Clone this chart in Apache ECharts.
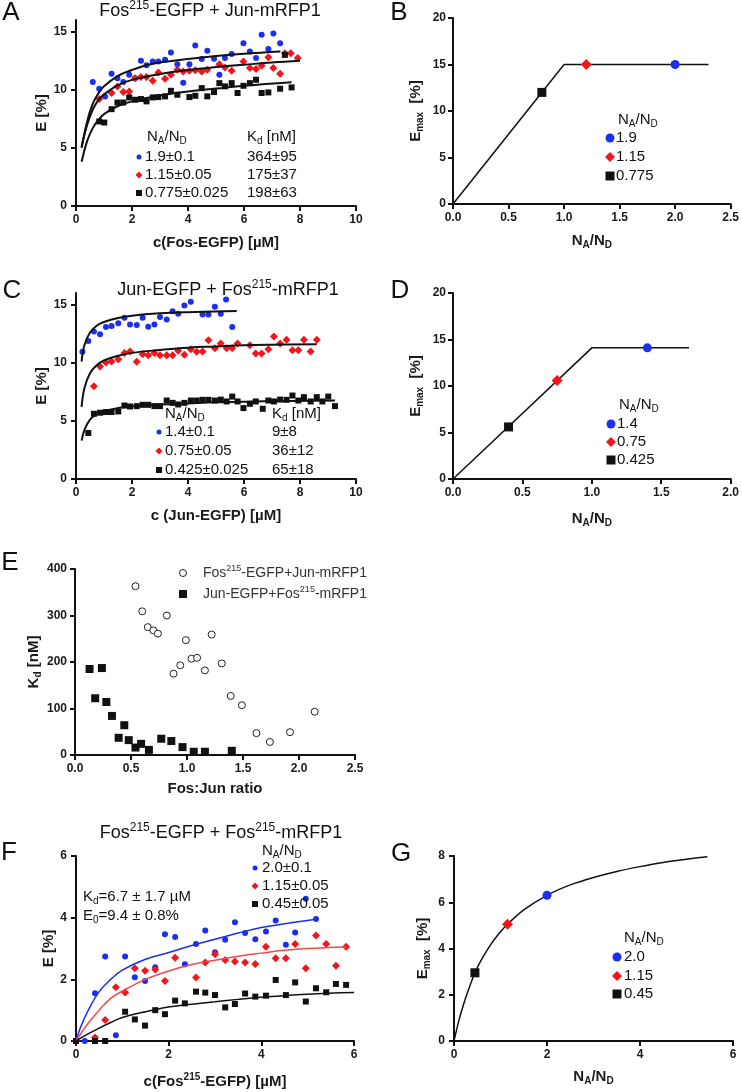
<!DOCTYPE html>
<html>
<head>
<meta charset="utf-8">
<script src="https://cdn.jsdelivr.net/npm/echarts@6/dist/echarts.min.js"></script>
<style>
  html, body { margin: 0; padding: 0; background: #fff; }
  #chart { width: 742px; height: 1092px; }
</style>
</head>
<body>
<div id="chart"></div>
<script>
const FONT = '"Liberation Sans", Arial, Helvetica, sans-serif';
const BLUE = '#1a2ff0';
const RED = '#f2161c';
const BLACK = '#111111';

// ---- panel A : Fos215-EGFP + Jun-mRFP1
const aBlue = [[0.60,10.66],[0.83,10.09],[1.04,9.43],[1.27,11.38],[1.48,11.0],[1.69,10.66],[1.90,11.29],[2.11,11.0],[2.32,12.5],[2.52,12.1],[2.74,12.44],[2.94,12.44],[3.18,12.59],[3.39,13.2],[3.62,12.2],[3.83,10.6],[4.05,12.2],[4.26,13.8],[4.49,12.64],[4.69,13.36],[4.93,12.67],[5.12,11.29],[5.32,12.73],[5.56,13.08],[5.98,14.0],[6.21,13.3],[6.43,12.73],[6.63,14.74],[6.87,13.5],[7.05,14.83],[7.29,14.0]];
const aRed = [[0.83,9.2],[1.27,9.71],[1.48,10.29],[1.69,9.8],[1.90,9.86],[2.11,11.0],[2.32,11.09],[2.52,11.09],[2.74,10.78],[2.94,11.49],[3.18,10.95],[3.39,11.29],[3.62,11.72],[3.83,11.58],[4.05,11.64],[4.26,11.67],[4.49,11.58],[4.69,11.72],[5.12,12.2],[5.32,11.92],[5.56,11.64],[5.98,12.44],[6.21,11.87],[6.43,11.78],[6.63,12.07],[6.87,12.8],[7.05,11.87],[7.29,11.38],[7.46,13.15],[7.67,13.15],[7.92,12.73]];
const aBlack = [[0.83,7.27],[1.01,7.18],[1.27,8.33],[1.48,8.9],[1.69,8.9],[1.90,9.34],[2.11,9.14],[2.32,9.2],[2.52,9.0],[2.74,9.34],[2.94,9.37],[3.18,9.43],[3.39,9.91],[3.62,9.57],[4.05,9.37],[4.26,9.48],[4.49,10.14],[4.69,9.43],[4.93,9.8],[5.12,10.57],[5.32,10.29],[5.56,10.57],[5.77,9.72],[5.98,10.34],[6.21,10.57],[6.43,10.86],[6.63,9.72],[6.87,9.77],[7.29,10.09],[7.46,13.0],[7.7,10.2]];
const aBlueFit = [[0.2,5.0],[0.4,7.3],[0.6,8.8],[0.8,9.7],[1.0,10.3],[1.5,11.2],[2,11.7],[2.5,12.1],[3,12.35],[4,12.65],[5,12.9],[6,13.1],[7.3,13.3]];
const aRedFit = [[0.2,5.1],[0.4,7.0],[0.6,8.3],[0.8,9.1],[1.0,9.6],[1.5,10.4],[2,10.85],[3,11.35],[4,11.7],[5,11.95],[6,12.15],[7,12.35],[8,12.5]];
const aBlackFit = [[0.2,3.8],[0.4,5.6],[0.6,6.7],[0.8,7.4],[1.0,7.9],[1.5,8.6],[2,9.0],[3,9.5],[4,9.85],[5,10.1],[6,10.35],[7.7,10.65]];

// ---- panel B
const bLine = [[0,0],[1,15],[2.3,15]];
const bPts = { blue: [[2.0,15]], red: [[1.2,15]], black: [[0.8,12]] };

// ---- panel C : Jun-EGFP + Fos215-mRFP1
const cBlue = [[0.23,10.94],[0.44,11.88],[0.64,12.68],[0.86,12.45],[1.07,13.08],[1.27,13.16],[1.51,13.39],[1.73,13.87],[1.93,13.3],[2.17,13.25],[2.38,13.87],[2.58,13.1],[2.8,13.3],[3.0,13.93],[3.24,13.73],[3.45,14.44],[3.65,14.21],[3.87,14.93],[4.1,15.24],[4.52,14.16],[4.73,14.16],[4.96,14.81],[5.17,14.21],[5.36,15.44],[5.58,13.08]];
const cRed = [[0.64,7.98],[0.86,9.68],[1.07,10.03],[1.27,10.1],[1.51,10.31],[1.73,10.83],[1.93,10.97],[2.17,10.09],[2.38,10.74],[2.58,10.65],[2.8,10.83],[3.0,10.65],[3.24,10.65],[3.45,10.65],[3.65,11.03],[3.87,10.68],[4.1,11.17],[4.31,10.94],[4.52,10.97],[4.73,11.94],[4.96,11.25],[5.17,11.65],[5.38,11.25],[5.58,11.25],[5.77,11.65],[6.21,11.51],[6.42,10.8],[6.63,10.8],[6.87,11.17],[7.07,12.25],[7.29,11.65],[7.52,11.97],[7.73,11.08],[7.94,11.08],[8.14,11.97],[8.38,10.97],[8.6,11.97]];
const cBlack = [[0.44,3.96],[0.64,5.61],[0.86,5.7],[1.07,5.76],[1.27,5.76],[1.51,5.81],[1.73,6.32],[1.93,6.24],[2.17,6.27],[2.38,6.38],[2.58,6.38],[2.8,6.27],[3.0,6.27],[3.24,6.75],[3.45,6.55],[3.65,6.41],[3.87,6.55],[4.1,6.75],[4.31,6.75],[4.52,6.81],[4.73,6.81],[4.96,6.75],[5.17,6.83],[5.38,6.67],[5.58,7.09],[5.77,6.67],[5.98,6.1],[6.21,6.47],[6.42,6.67],[6.67,6.04],[6.87,6.75],[7.07,6.67],[7.29,6.83],[7.52,6.81],[7.73,7.18],[7.94,6.75],[8.14,7.04],[8.38,6.67],[8.6,7.04],[8.8,6.67],[9.01,7.09],[9.25,6.27]];
const cBlueFit = [[0.2,10.1],[0.3,11.5],[0.5,12.6],[0.75,13.2],[1,13.5],[1.5,13.85],[2,14.05],[3,14.25],[4,14.35],[5.74,14.45]];
const cRedFit = [[0.2,6.2],[0.3,7.8],[0.5,9.1],[0.75,9.8],[1,10.2],[1.5,10.6],[2,10.85],[3,11.1],[4,11.3],[5,11.4],[6,11.5],[7,11.55],[8.6,11.6]];
const cBlackFit = [[0.2,3.3],[0.3,4.2],[0.5,5.1],[0.75,5.6],[1,5.85],[1.5,6.1],[2,6.25],[3,6.4],[4,6.5],[5,6.6],[6,6.65],[7,6.7],[9.25,6.75]];

// ---- panel D
const dLine = [[0,0],[1,14.1],[1.7,14.1]];
const dPts = { blue: [[1.4,14.1]], red: [[0.75,10.6]], black: [[0.4,5.6]] };

// ---- panel E : Kd vs Fos:Jun ratio
const eFosJun = [[0.54,363],[0.60,309],[0.65,275],[0.70,268],[0.74,261],[0.82,300],[0.88,175],[0.94,193],[0.99,247],[1.04,207],[1.09,209],[1.16,182],[1.22,259],[1.31,197],[1.39,127],[1.49,107],[1.62,47],[1.74,28],[1.92,49],[2.14,93]];
const eJunFos = [[0.13,185],[0.18,122],[0.24,187],[0.28,114],[0.33,84],[0.39,37],[0.44,64],[0.48,32],[0.54,16],[0.59,24],[0.66,11],[0.77,35],[0.86,30],[0.96,17],[1.06,7],[1.16,7],[1.40,9]];

// ---- panel F : Fos215-EGFP + Fos215-mRFP1
const fBlue = [[0,0],[0.19,0],[0.41,1.55],[0.63,2.74],[0.86,0.19],[1.06,2.74],[1.27,2.07],[1.49,1.95],[1.71,2.39],[1.92,3.46],[2.14,3.37],[2.35,2.49],[2.59,3.15],[2.79,3.58],[3.0,2.88],[3.22,3.28],[3.43,3.85],[3.65,3.5],[3.87,3.3],[4.1,3.55],[4.31,3.91],[4.53,3.12],[4.73,3.52],[4.96,4.61],[5.18,3.96]];
const fRed = [[0,0],[0.41,0.11],[0.63,0.68],[0.86,1.74],[1.06,1.57],[1.27,2.36],[1.49,2.28],[1.71,2.32],[1.92,1.95],[2.14,2.7],[2.59,2.06],[2.79,2.55],[3.0,2.81],[3.22,2.63],[3.43,2.58],[3.65,2.55],[3.87,2.5],[4.1,3.06],[4.31,2.68],[4.53,2.68],[4.73,3.15],[4.96,2.36],[5.18,3.42],[5.4,3.15],[5.61,2.44],[5.83,3.06]];
const fBlack = [[0,0],[0.41,0],[0.63,0],[1.06,0.95],[1.27,0.7],[1.49,0.5],[1.71,1.0],[1.92,0.87],[2.14,1.31],[2.35,1.22],[2.59,1.6],[2.79,1.57],[3.0,1.49],[3.22,1.09],[3.43,1.2],[3.65,1.54],[3.87,1.44],[4.1,1.47],[4.31,1.98],[4.53,1.49],[4.73,1.9],[4.96,1.28],[5.18,1.71],[5.4,1.58],[5.61,1.85],[5.83,1.82]];
const fBlueFit = [[0,0],[0.1,0.45],[0.25,0.95],[0.5,1.6],[0.75,2.0],[1,2.3],[1.5,2.65],[2,2.87],[2.5,3.1],[3,3.3],[3.5,3.5],[4,3.68],[4.5,3.8],[5.18,3.95]];
const fRedFit = [[0,0],[0.25,0.55],[0.5,1.0],[0.75,1.38],[1,1.62],[1.5,2.0],[2,2.27],[2.5,2.48],[3,2.62],[3.5,2.75],[4,2.85],[4.5,2.94],[5,3.0],[5.83,3.05]];
const fBlackFit = [[0,0],[0.25,0.22],[0.5,0.42],[0.75,0.6],[1,0.76],[1.5,0.95],[2,1.1],[2.5,1.19],[3,1.27],[3.5,1.35],[4,1.42],[4.5,1.47],[5,1.52],[6,1.57]];

// ---- panel G
const gCurve = [[0,0],[0.1,0.85],[0.2,1.55],[0.3,2.15],[0.45,2.95],[0.6,3.55],[0.8,4.2],[1.0,4.72],[1.15,5.05],[1.5,5.67],[2,6.3],[2.5,6.75],[3,7.07],[3.5,7.33],[4,7.54],[4.5,7.72],[5,7.86],[5.45,7.97]];
const gPts = { blue: [[2.0,6.3]], red: [[1.15,5.05]], black: [[0.45,2.95]] };

// legend / annotation texts
const aLegend = ['1.9±0.1', '1.15±0.05', '0.775±0.025'];
const aKd = ['364±95', '175±37', '198±63'];
const bLegend = ['1.9', '1.15', '0.775'];
const cLegend = ['1.4±0.1', '0.75±0.05', '0.425±0.025'];
const cKd = ['9±8', '36±12', '65±18'];
const dLegend = ['1.4', '0.75', '0.425'];
const fLegend = ['2.0±0.1', '1.15±0.05', '0.45±0.05'];
const gLegend = ['2.0', '1.15', '0.45'];

const grids = [
  { left: 76, top: 20, width: 280, height: 186 },   // A
  { left: 453, top: 18, width: 280, height: 186 },  // B
  { left: 76, top: 293, width: 280, height: 186 },  // C
  { left: 453, top: 293, width: 280, height: 186 }, // D
  { left: 75, top: 569, width: 280, height: 186 },  // E
  { left: 76, top: 856, width: 278, height: 185 },  // F
  { left: 454, top: 856, width: 279, height: 185 }, // G
];

const axisRich = {
  n: { fontFamily: FONT, fontWeight: 'bold', fontSize: 15, color: '#1a1a1a', lineHeight: 19 },
  b: { fontFamily: FONT, fontWeight: 'bold', fontSize: 10, color: '#1a1a1a', lineHeight: 10, verticalAlign: 'bottom' },
  s: { fontFamily: FONT, fontWeight: 'bold', fontSize: 10, color: '#1a1a1a', lineHeight: 10, verticalAlign: 'top' },
};

const lineCommon = { color: BLACK, width: 2 };

function xAxis(gi, min, max, interval, name, gap, dec) {
  return {
    gridIndex: gi, type: 'value', min, max, interval,
    name, nameLocation: 'middle', nameGap: gap,
    nameTextStyle: { fontFamily: FONT, fontWeight: 'bold', fontSize: 15, color: '#1a1a1a', rich: axisRich },
    axisLine: { show: true, onZero: false, lineStyle: lineCommon },
    axisTick: { show: true, length: 5, lineStyle: lineCommon },
    axisLabel: { fontFamily: FONT, fontWeight: 'bold', fontSize: 12, color: '#1a1a1a', margin: 8,
      formatter: (v) => dec ? v.toFixed(dec) : String(v) },
    splitLine: { show: false },
  };
}

function yAxis(gi, min, max, interval, ticks, name, gap, margin) {
  return {
    gridIndex: gi, type: 'value', min, max, interval,
    name, nameLocation: 'middle', nameGap: gap, nameRotate: 90,
    nameTextStyle: { fontFamily: FONT, fontWeight: 'bold', fontSize: 15, color: '#1a1a1a', rich: axisRich },
    axisLine: { show: true, onZero: false, lineStyle: lineCommon },
    axisTick: { show: true, length: 5, lineStyle: lineCommon, customValues: ticks },
    axisLabel: { fontFamily: FONT, fontWeight: 'bold', fontSize: 12, color: '#1a1a1a', margin, customValues: ticks },
    splitLine: { show: false },
  };
}

function dots(gi, data, symbol, color, size, extra) {
  return Object.assign({
    type: 'scatter', xAxisIndex: gi, yAxisIndex: gi, data, symbol, symbolSize: size,
    itemStyle: { color, opacity: 1 }, z: 3, silent: true,
  }, extra || {});
}

function curve(gi, data, color, width, smooth) {
  return {
    type: 'line', xAxisIndex: gi, yAxisIndex: gi, data, showSymbol: false, symbol: 'none',
    smooth: smooth, lineStyle: { color, width }, z: 4, silent: true,
  };
}

const NAND = '{n|N}{b|A}{n|/N}{b|D}';
const EMAX = '{n|E}{b|max}{n|  [%]}';

const xAxes = [
  xAxis(0, 0, 10, 2, 'c(Fos-EGFP) [µM]', 29, 0),
  xAxis(1, 0, 2.5, 0.5, NAND, 27, 1),
  xAxis(2, 0, 10, 2, 'c (Jun-EGFP) [µM]', 29, 0),
  xAxis(3, 0, 2, 0.5, NAND, 30, 1),
  xAxis(4, 0, 2.5, 0.5, 'Fos:Jun ratio', 26, 1),
  xAxis(5, 0, 6, 2, '{n|c(Fos}{s|215}{n|-EGFP) [µM]}', 31, 0),
  xAxis(6, 0, 6, 2, NAND, 26, 0),
];
const yAxes = [
  yAxis(0, 0, 16, 5, [0, 5, 10, 15], 'E [%]', 22, 9),
  yAxis(1, 0, 20, 5, [0, 5, 10, 15, 20], EMAX, 28, 7),
  yAxis(2, 0, 16, 5, [0, 5, 10, 15], 'E [%]', 26, 9),
  yAxis(3, 0, 20, 5, [0, 5, 10, 15, 20], EMAX, 28, 7),
  yAxis(4, 0, 400, 100, [0, 100, 200, 300, 400], '{n|K}{b|d}{n| [nM]}', 32, 8),
  yAxis(5, 0, 6, 2, [0, 2, 4, 6], 'E [%]', 20, 9),
  yAxis(6, 0, 8, 2, [0, 2, 4, 6, 8], EMAX, 22, 9),
];

const series = [
  // A
  dots(0, aBlue, 'circle', BLUE, 6),
  dots(0, aRed, 'diamond', RED, 8),
  dots(0, aBlack, 'rect', BLACK, 6),
  curve(0, aBlueFit, BLACK, 2, 0.4),
  curve(0, aRedFit, BLACK, 2, 0.4),
  curve(0, aBlackFit, BLACK, 2, 0.4),
  // B
  curve(1, bLine, BLACK, 1.5, false),
  dots(1, bPts.black, 'rect', BLACK, 9, { z: 5 }),
  dots(1, bPts.red, 'diamond', RED, 11, { z: 5 }),
  dots(1, bPts.blue, 'circle', BLUE, 9, { z: 5 }),
  // C
  dots(2, cBlue, 'circle', BLUE, 6),
  dots(2, cRed, 'diamond', RED, 8),
  dots(2, cBlack, 'rect', BLACK, 6),
  curve(2, cBlueFit, BLACK, 2, 0.4),
  curve(2, cRedFit, BLACK, 2, 0.4),
  curve(2, cBlackFit, BLACK, 2, 0.4),
  // D
  curve(3, dLine, BLACK, 1.5, false),
  dots(3, dPts.black, 'rect', BLACK, 9, { z: 5 }),
  dots(3, dPts.red, 'diamond', RED, 11, { z: 5 }),
  dots(3, dPts.blue, 'circle', BLUE, 9, { z: 5 }),
  // E
  dots(4, eFosJun, 'circle', '#ffffff', 7, { itemStyle: { color: '#ffffff', borderColor: '#222', borderWidth: 1, opacity: 1 } }),
  dots(4, eJunFos, 'rect', BLACK, 8),
  // F
  dots(5, fBlue, 'circle', BLUE, 6),
  dots(5, fRed, 'diamond', RED, 8),
  dots(5, fBlack, 'rect', BLACK, 6),
  curve(5, fBlueFit, BLUE, 1.5, 0.4),
  curve(5, fRedFit, '#f04a4a', 1.5, 0.4),
  curve(5, fBlackFit, BLACK, 1.5, 0.4),
  // G
  curve(6, gCurve, BLACK, 1.5, 0.3),
  dots(6, gPts.black, 'rect', BLACK, 9, { z: 5 }),
  dots(6, gPts.red, 'diamond', RED, 11, { z: 5 }),
  dots(6, gPts.blue, 'circle', BLUE, 9, { z: 5 }),
];

// ---- graphic text helpers
function richG(size, weight, fill) {
  const small = Math.round(size * 0.66);
  return {
    n: { fontSize: size, fontFamily: FONT, fontWeight: weight, fill, lineHeight: size + 4 },
    b: { fontSize: small, fontFamily: FONT, fontWeight: weight, fill, lineHeight: small, verticalAlign: 'bottom' },
    s: { fontSize: small, fontFamily: FONT, fontWeight: weight, fill, lineHeight: small, verticalAlign: 'top' },
  };
}
function label(x, y, text, size, opts) {
  opts = opts || {};
  const weight = opts.weight || 'normal';
  const fill = opts.fill || '#111';
  return {
    type: 'text', x, y, z: 20, silent: true,
    style: {
      text, fontSize: size, fontFamily: FONT, fontWeight: weight, fill,
      align: opts.align || 'left', verticalAlign: 'middle', rich: richG(size, weight, fill),
    },
  };
}
function marker(shape, x, y, color, size) {
  const h = size / 2;
  if (shape === 'circle') return { type: 'circle', z: 20, silent: true, shape: { cx: x, cy: y, r: h }, style: { fill: color } };
  if (shape === 'rect') return { type: 'rect', z: 20, silent: true, shape: { x: x - h, y: y - h, width: size, height: size }, style: { fill: color } };
  return { type: 'polygon', z: 20, silent: true, shape: { points: [[x, y - h], [x + h, y], [x, y + h], [x - h, y]] }, style: { fill: color } };
}
function legendBlock(x, yHead, rows, labels, mx, sizes, tx) {
  const out = [label(x, yHead, NAND, 15)];
  const shapes = [['circle', BLUE], ['diamond', RED], ['rect', BLACK]];
  rows.forEach((ry, i) => {
    out.push(marker(shapes[i][0], mx, ry, shapes[i][1], sizes[i]));
    out.push(label(tx, ry, labels[i], 15));
  });
  return out;
}

const graphics = [
  // panel letters
  label(11, 13, 'A', 26, { align: 'center' }),
  label(399, 13, 'B', 26, { align: 'center' }),
  label(12, 291, 'C', 26, { align: 'center' }),
  label(400, 291, 'D', 26, { align: 'center' }),
  label(10, 563, 'E', 26, { align: 'center' }),
  label(9, 853, 'F', 26, { align: 'center' }),
  label(401, 854, 'G', 26, { align: 'center' }),
  // titles
  label(210, 11, '{n|Fos}{s|215}{n|-EGFP + Jun-mRFP1}', 18, { align: 'center' }),
  label(228, 290, '{n|Jun-EGFP + Fos}{s|215}{n|-mRFP1}', 18, { align: 'center' }),
  label(221, 833, '{n|Fos}{s|215}{n|-EGFP + Fos}{s|215}{n|-mRFP1}', 18, { align: 'center' }),
  // A legend
  ...legendBlock(147, 137, [157, 175, 193], aLegend, 139, [5, 7, 6], 145),
  label(247, 137, '{n|K}{b|d}{n| [nM]}', 15),
  ...aKd.map((t, i) => label(247, [157, 175, 193][i], t, 15)),
  // B legend
  ...legendBlock(618, 120, [138, 157, 176], bLegend, 610, [9, 10, 9], 616),
  // C legend
  ...legendBlock(165, 414, [432, 451, 470], cLegend, 159, [5, 7, 6], 165),
  label(272, 414, '{n|K}{b|d}{n| [nM]}', 15),
  ...cKd.map((t, i) => label(272, [432, 451, 470][i], t, 15)),
  // D legend
  ...legendBlock(619, 405, [424, 442, 460], dLegend, 611, [9, 10, 9], 617),
  // E legend
  { type: 'circle', z: 20, silent: true, shape: { cx: 183, cy: 573, r: 3.5 }, style: { fill: '#fff', stroke: '#222', lineWidth: 1 } },
  label(203, 573, '{n|Fos}{s|215}{n|-EGFP+Jun-mRFP1}', 14, { fill: '#333' }),
  marker('rect', 183, 594, BLACK, 8),
  label(203, 594, '{n|Jun-EGFP+Fos}{s|215}{n|-mRFP1}', 14, { fill: '#333' }),
  // F legend + fit text
  ...legendBlock(262, 851, [868, 886, 904], fLegend, 255, [5, 7, 6], 262),
  label(83, 897, '{n|K}{b|d}{n|=6.7 ± 1.7 µM}', 15),
  label(83, 916, '{n|E}{b|0}{n|=9.4 ± 0.8%}', 15),
  // G legend
  ...legendBlock(624, 938, [957, 976, 994], gLegend, 617, [9, 10, 9], 624),
];

const chart = echarts.init(document.getElementById('chart'), null, { renderer: 'canvas' });
chart.setOption({
  animation: false,
  backgroundColor: '#ffffff',
  textStyle: { fontFamily: FONT },
  grid: grids.map((g) => Object.assign({ containLabel: false }, g)),
  xAxis: xAxes,
  yAxis: yAxes,
  series,
  graphic: graphics,
});
</script>
</body>
</html>
